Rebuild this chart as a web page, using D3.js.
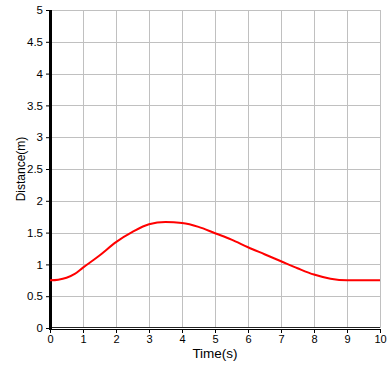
<!DOCTYPE html>
<html>
<head>
<meta charset="utf-8">
<script src="https://cdn.jsdelivr.net/npm/d3@7"></script>
<style>
  body { margin: 0; background: #fff; }
  text { font-family: "Liberation Sans", Arial, sans-serif; }
</style>
</head>
<body>
<script>
// data
var times = [0, 0.25, 0.5, 0.75, 1, 1.5, 2, 2.5, 3, 3.5, 4, 4.5, 5, 5.5, 6, 6.5, 7, 7.5, 8, 8.5, 9, 9.5, 10];
var distances = [0.75, 0.76, 0.79, 0.85, 0.95, 1.14, 1.35, 1.51, 1.63, 1.665, 1.65, 1.59, 1.49, 1.39, 1.27, 1.16, 1.05, 0.94, 0.84, 0.775, 0.75, 0.75, 0.75];
var xTicks = [0, 1, 2, 3, 4, 5, 6, 7, 8, 9, 10];
var yTicks = [0, 0.5, 1, 1.5, 2, 2.5, 3, 3.5, 4, 4.5, 5];

var margin = {top: 10, right: 10, bottom: 40, left: 50};
var outer_width = 390, outer_height = 368;
var w = outer_width - margin.left - margin.right;   // 330
var h = 318;

var svg = d3.select("body").append("svg")
    .attr("width", outer_width)
    .attr("height", outer_height)
  .append("g")
    .attr("transform", "translate(" + margin.left + "," + margin.top + ")");

var xScale = d3.scaleLinear().domain([0, 10]).range([0, w]);
var yScale = d3.scaleLinear().domain([0, 5]).range([h, 0]);

// grid
svg.append("g").selectAll("line.v")
    .data(xTicks.slice(1))
  .enter().append("line")
    .attr("x1", function(d){ return Math.round(xScale(d)) + 0.5; })
    .attr("x2", function(d){ return Math.round(xScale(d)) + 0.5; })
    .attr("y1", 0).attr("y2", h)
    .attr("stroke", "#c0c0c0");

svg.append("g").selectAll("line.h")
    .data(yTicks.slice(1))
  .enter().append("line")
    .attr("x1", 0).attr("x2", w)
    .attr("y1", function(d){ return Math.round(yScale(d)) + 0.5; })
    .attr("y2", function(d){ return Math.round(yScale(d)) + 0.5; })
    .attr("stroke", "#c0c0c0");

// x axis (double line: zero line + axis)
svg.append("line")
    .attr("x1", 0).attr("x2", w)
    .attr("y1", h - 0.5).attr("y2", h - 0.5)
    .attr("stroke", "#222");
svg.append("line")
    .attr("x1", 0).attr("x2", w)
    .attr("y1", h + 1.5).attr("y2", h + 1.5)
    .attr("stroke", "#000");

var xAxis = d3.axisBottom(xScale)
    .tickValues(xTicks)
    .tickSize(4)
    .tickPadding(2)
    .tickFormat(d3.format("d"));
var gx = svg.append("g")
    .attr("transform", "translate(0," + (h + 1) + ")")
    .call(xAxis);
gx.select(".domain").remove();
gx.selectAll("text").attr("font-size", 11).attr("fill", "#000")
    .style("font-family", "'Liberation Sans', sans-serif");

var yAxis = d3.axisLeft(yScale)
    .tickValues(yTicks)
    .tickSize(4)
    .tickPadding(3)
    .tickFormat(function(d){ return d; });
var gy = svg.append("g").call(yAxis);
gy.select(".domain").remove();
gy.selectAll("text").attr("font-size", 11.5).attr("fill", "#000")
    .style("font-family", "'Liberation Sans', sans-serif");

// thick y axis line
svg.append("line")
    .attr("x1", 0.5).attr("x2", 0.5)
    .attr("y1", 0).attr("y2", h + 2)
    .attr("stroke", "#000")
    .attr("stroke-width", 3);

// the curve
var line = d3.line()
    .x(function(d, i){ return xScale(times[i]); })
    .y(function(d){ return yScale(d); })
    .curve(d3.curveMonotoneX);

svg.append("path")
    .datum(distances)
    .attr("d", line)
    .attr("fill", "none")
    .attr("stroke", "#ff0000")
    .attr("stroke-width", 2);

// axis titles
svg.append("text")
    .attr("x", w / 2)
    .attr("y", h + 30)
    .attr("text-anchor", "middle")
    .attr("font-size", 13.5)
    .text("Time(s)");

svg.append("text")
    .attr("transform", "translate(" + (-25) + "," + (h / 2) + ") rotate(-90)")
    .attr("text-anchor", "middle")
    .attr("font-size", 12)
    .text("Distance(m)");
</script>
</body>
</html>
